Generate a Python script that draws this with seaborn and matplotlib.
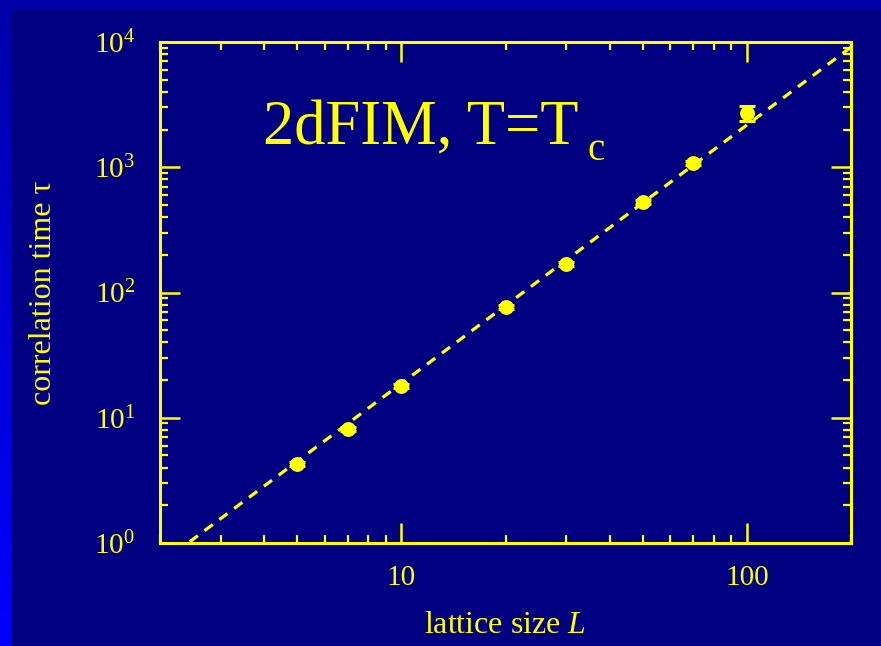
import numpy as np
import pandas as pd
import matplotlib
matplotlib.use("Agg")
import matplotlib.pyplot as plt
import matplotlib.ticker as mticker
from matplotlib.colors import LinearSegmentedColormap
import seaborn as sns

# ---- data ----
lattice_L = [5, 7, 10, 20, 30, 50, 70, 100]
tau = [4.3, 8.1, 17.9, 76.6, 169, 528, 1080, 2710]
tau_err = [0.15, 0.3, 0.6, 2.5, 6, 20, 45, 350]
fit_L = [2.0, 200.0]
fit_tau = [0.68, 9100.0]
title_main = "2dFIM, T=T"
title_sub = "c"
x_label = "lattice size $L$"
y_label = "correlation time τ"

YELLOW = "#FFFF00"
NAVY = "#000080"

sns.set_style("ticks")
plt.rcParams["font.family"] = ["Liberation Serif", "DejaVu Serif"]
plt.rcParams["mathtext.fontset"] = "custom"
plt.rcParams["mathtext.rm"] = "Liberation Serif"
plt.rcParams["mathtext.it"] = "Liberation Serif:italic"
plt.rcParams["mathtext.bf"] = "Liberation Serif:bold"

W, H = 881, 646
fig = plt.figure(figsize=(W / 100, H / 100), dpi=100, facecolor=NAVY)

# decorative slide edges
top_ax = fig.add_axes([0, 1 - 9 / H, 1, 9 / H])
top_ax.set_axis_off()
top_ax.add_patch(plt.Rectangle((0, 0), 1, 1, color="#0000A8", transform=top_ax.transAxes))
left_ax = fig.add_axes([0, 0, 11.5 / W, 1 - 9 / H])
cmap = LinearSegmentedColormap.from_list("edge", ["#0000A8", "#0000D8", "#0000FF"])
left_ax.imshow(np.linspace(0, 1, 200).reshape(-1, 1), aspect="auto", cmap=cmap)
left_ax.set_axis_off()

ax = fig.add_axes([160 / W, 1 - 543 / H, (851 - 160) / W, (543 - 42) / H])
ax.set_facecolor(NAVY)

df = pd.DataFrame({"L": lattice_L, "tau": tau, "err": tau_err})
fit_df = pd.DataFrame({"L": fit_L, "tau": fit_tau})

sns.lineplot(data=fit_df, x="L", y="tau", ax=ax, color=YELLOW, lw=2.3,
             linestyle=(0, (3.2, 2.6)), zorder=2)
ax.errorbar(df["L"], df["tau"], yerr=df["err"], fmt="none", ecolor=YELLOW,
            elinewidth=2.2, capsize=5.8, capthick=2.2, zorder=3)
sns.scatterplot(data=df, x="L", y="tau", ax=ax, color=YELLOW, s=115,
                edgecolor=YELLOW, linewidth=0, zorder=4)

ax.set_xscale("log")
ax.set_yscale("log")
ax.set_xlim(2, 200)
ax.set_ylim(1, 1e4)

for sp in ax.spines.values():
    sp.set_color(YELLOW)
    sp.set_linewidth(2.2)

ax.xaxis.set_major_locator(mticker.LogLocator(base=10, numticks=10))
ax.xaxis.set_minor_locator(mticker.LogLocator(base=10, subs=np.arange(2, 10), numticks=20))
ax.yaxis.set_major_locator(mticker.LogLocator(base=10, numticks=10))
ax.yaxis.set_minor_locator(mticker.LogLocator(base=10, subs=np.arange(2, 10), numticks=20))
ax.xaxis.set_major_formatter(mticker.FuncFormatter(lambda v, p: f"{v:g}"))
ax.xaxis.set_minor_formatter(mticker.NullFormatter())
ax.yaxis.set_major_formatter(mticker.LogFormatterMathtext())
ax.yaxis.set_minor_formatter(mticker.NullFormatter())

ax.tick_params(which="both", direction="in", top=True, right=True,
               color=YELLOW, labelcolor=YELLOW)
ax.tick_params(which="major", length=14.5, width=1.8, labelsize=21)
ax.tick_params(which="minor", length=5.5, width=1.6)
ax.tick_params(axis="x", which="major", pad=16)
ax.tick_params(axis="y", which="major", pad=18)

ax.set_xlabel(x_label, color=YELLOW, fontsize=23)
ax.set_ylabel(y_label, color=YELLOW, fontsize=23)
ax.xaxis.set_label_coords(0.5, -0.135)
ax.yaxis.set_label_coords(-0.148, 0.5)

t_main = fig.text(263 / W, 1 - 144 / H, title_main, color=YELLOW, fontsize=45,
                  ha="left", va="baseline")
renderer = fig.canvas.get_renderer()
bb = t_main.get_window_extent(renderer)
fig.text((bb.x1 + 9) / W, 1 - 160 / H, title_sub, color=YELLOW, fontsize=28,
         ha="left", va="baseline")

fig.savefig("out.png", dpi=100, facecolor=NAVY)
